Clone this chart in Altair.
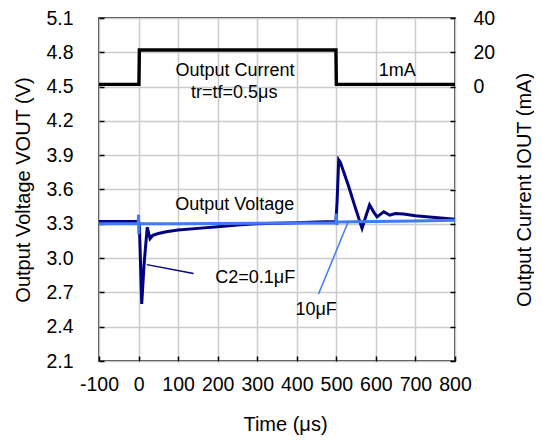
import altair as alt
import pandas as pd

# ---------------- data ----------------
# Output current step (mA), right axis
cur_t = [-100, 1, 2, 499, 500, 800]
cur_ma = [1.3, 1.3, 21.3, 21.3, 1.3, 1.3]

# Output voltage with C2 = 0.1 uF (V)
c2_t = [-100, -50, 0, 2, 8, 14, 22, 29, 36, 50, 70, 100, 150, 200, 250, 300, 350,
        400, 450, 499, 502, 506, 510, 530, 550, 565, 574, 584, 595, 603, 612, 620,
        635, 649, 670, 700, 750, 800]
c2_v = [3.32, 3.32, 3.32, 3.30, 2.60, 2.95, 3.27, 3.17, 3.20, 3.215, 3.23, 3.245,
        3.26, 3.275, 3.29, 3.30, 3.305, 3.31, 3.315, 3.32, 3.50, 3.86, 3.84, 3.64,
        3.42, 3.26, 3.36, 3.465, 3.40, 3.36, 3.385, 3.405, 3.375, 3.39, 3.385, 3.37,
        3.355, 3.34]

# Output voltage with 10 uF (V)
c10_t = [-100, -1, 0, 0.5, 1.5, 100, 300, 499, 500, 501, 502, 600, 700, 800]
c10_v = [3.30, 3.30, 3.38, 3.21, 3.30, 3.30, 3.305, 3.31, 3.39, 3.29, 3.315, 3.32,
         3.325, 3.33]

# leader lines
lead_c2_t = [21, 139]
lead_c2_v = [2.943, 2.866]
lead_10_t = [529, 455]
lead_10_v = [3.309, 2.686]

# annotations
label_text = ["Output Current", "tr=tf=0.5μs", "1mA", "Output Voltage", "C2=0.1μF", "10μF"]
label_t = [244, 242, 654, 243, 295, 449]
label_v = [4.633, 4.445, 4.633, 3.463, 2.829, 2.55]

# axis ticks
x_ticks = [-100, 0, 100, 200, 300, 400, 500, 600, 700, 800]
v_ticks = [2.1, 2.4, 2.7, 3.0, 3.3, 3.6, 3.9, 4.2, 4.5, 4.8, 5.1]
i_ticks = [-160, -140, -120, -100, -80, -60, -40, -20, 0, 20, 40]

# ---------------- frames ----------------
df_cur = pd.DataFrame({"t": cur_t, "v": cur_ma, "i": range(len(cur_t))})
df_c2 = pd.DataFrame({"t": c2_t, "v": c2_v, "i": range(len(c2_t))})
df_c10 = pd.DataFrame({"t": c10_t, "v": c10_v, "i": range(len(c10_t))})
df_l2 = pd.DataFrame({"t": lead_c2_t, "v": lead_c2_v, "i": range(2)})
df_l10 = pd.DataFrame({"t": lead_10_t, "v": lead_10_v, "i": range(2)})
df_lab = pd.DataFrame({"t": label_t, "v": label_v, "txt": label_text})

FONT = "Liberation Sans"

X = alt.X("t:Q",
          scale=alt.Scale(domain=[-100, 800], nice=False, zero=False),
          axis=alt.Axis(values=x_ticks, title="Time (μs)", offset=-5, tickSize=5,
                        labelPadding=14, titlePadding=21, titleX=186,
                        labelOverlap=False, labelFlush=False,
                        labelExpr="datum.value < 0 ? '-' + abs(datum.value) : '' + datum.value",
                        titleAnchor="middle", grid=True))
YV = alt.Y("v:Q",
           scale=alt.Scale(domain=[2.1, 5.1], nice=False, zero=False),
           axis=alt.Axis(values=v_ticks, format=".1f", title="Output Voltage VOUT (V)",
                         offset=-5, tickSize=5, labelPadding=26, titlePadding=12,
                         labelOverlap=False, labelFlush=False, grid=True))
YI = alt.Y("v:Q",
           scale=alt.Scale(domain=[-160, 40], nice=False, zero=False),
           axis=alt.Axis(orient="right", values=i_ticks,
                         labelExpr="datum.value >= 0 ? datum.label : ''",
                         title="Output Current IOUT (mA)", offset=-5, tickSize=5,
                         labelPadding=18, titlePadding=20, titleAngle=270,
                         labelOverlap=False, labelFlush=False,
                         titleBaseline="top", grid=False))

navy = alt.Chart(df_c2).mark_line(color="#000080", strokeWidth=3).encode(
    x=X, y=YV, order="i:Q")
blue = alt.Chart(df_c10).mark_line(color="#3F7BF5", strokeWidth=3).encode(
    x=X, y=YV, order="i:Q")
lead2 = alt.Chart(df_l2).mark_line(color="#000080", strokeWidth=1.5).encode(
    x=X, y=YV, order="i:Q")
lead10 = alt.Chart(df_l10).mark_line(color="#3F7BF5", strokeWidth=1.5).encode(
    x=X, y=YV, order="i:Q")
texts = alt.Chart(df_lab).mark_text(font=FONT, fontSize=18, color="black",
                                    align="center", baseline="middle").encode(
    x=X, y=YV, text="txt:N")

volt = alt.layer(navy, blue, lead2, lead10, texts)

current = alt.Chart(df_cur).mark_line(color="black", strokeWidth=3.4).encode(
    x=X, y=YI, order="i:Q")

chart = alt.layer(volt, current).resolve_scale(y="independent").properties(
    width=356, height=343,
    autosize=alt.AutoSizeParams(type="none"),
    padding={"left": 91, "top": 10, "right": 79, "bottom": 74},
).configure_view(
    stroke="black", strokeWidth=1.5
).configure_axis(
    labelFont=FONT, labelFontSize=19.5, labelColor="black",
    titleFont=FONT, titleFontSize=20, titleFontWeight="normal", titleColor="black",
    tickColor="black", tickWidth=1.5, domain=False,
    gridColor="#cccccc", gridWidth=1.5,
)

chart.save("out.html", embed_options={"renderer": "svg", "actions": False})
